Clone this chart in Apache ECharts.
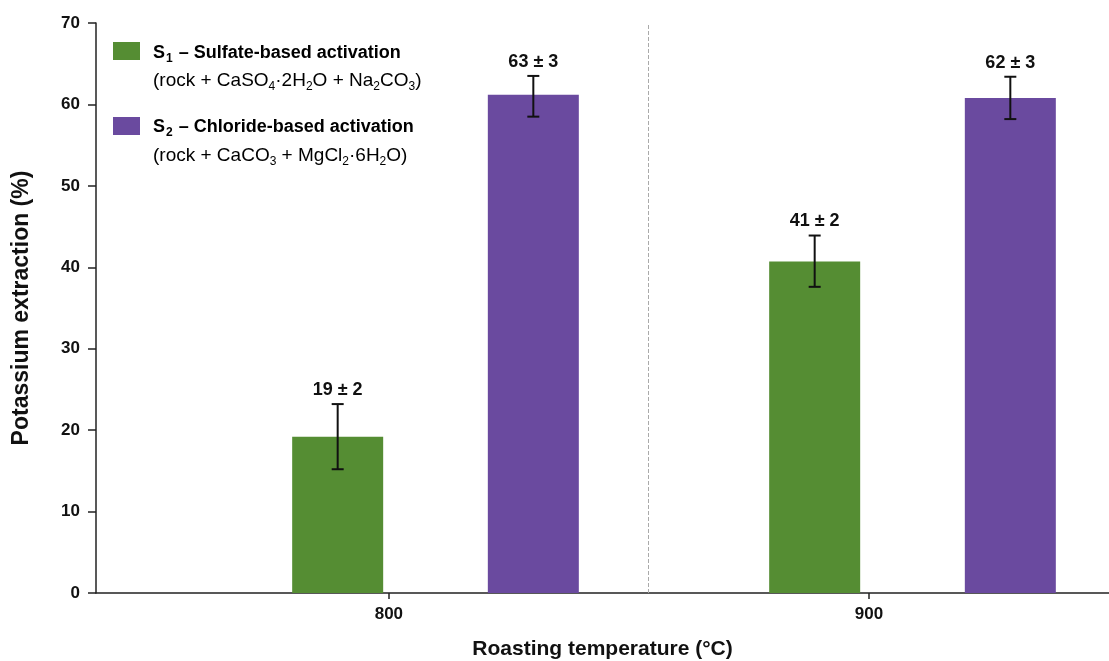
<!DOCTYPE html>
<html lang="en">

<head>
  <meta charset="UTF-8">
  <title>Potassium extraction vs roasting temperature</title>
  <style>
    html, body { margin: 0; padding: 0; background: #fff; }
    #root { width: 1109px; height: 661px; }
  </style>
</head>

<body>
  <div id="root"></div>
</body>
<script src="https://cdn.jsdelivr.net/npm/echarts@6/dist/echarts.min.js"></script>
<script>
  // values
  const categories = ['800', '900']
  const sulfate = [19.2, 40.7]
  const chloride = [61.2, 60.8]
  const sulfateLow = [15.2, 37.6]
  const sulfateHigh = [23.2, 43.9]
  const chlorideLow = [58.5, 58.2]
  const chlorideHigh = [63.5, 63.4]
  const sulfateLabels = ['19 ± 2', '41 ± 2']
  const chlorideLabels = ['63 ± 3', '62 ± 3']
  const tempTicks = [800, 900]
  const dividerAt = 854

  const GREEN = '#558d33'
  const PURPLE = '#6a4a9f'
  const FONT = 'Liberation Sans, Arial, sans-serif'
  const BAR_W = 91
  const BAR_GAP = 1.15
  const OFFSET = (BAR_W + BAR_W * BAR_GAP) / 2

  let myChart = echarts.init(document.getElementById('root'))

  function errorSeries(name, low, high, labels, sign) {
    return {
      name: name,
      type: 'custom',
      xAxisIndex: 1,
      yAxisIndex: 1,
      silent: true,
      z: 5,
      data: categories.map((c, i) => [i, low[i], high[i], labels[i]]),
      renderItem: function (params, api) {
        const i = api.value(0)
        const x = api.coord([i, 0])[0] + sign * OFFSET
        const yLo = api.coord([i, api.value(1)])[1]
        const yHi = api.coord([i, api.value(2)])[1]
        const cap = 6
        const ls = { stroke: '#111', lineWidth: 2 }
        return {
          type: 'group',
          children: [
            { type: 'line', shape: { x1: x, y1: yLo, x2: x, y2: yHi }, style: ls },
            { type: 'line', shape: { x1: x - cap, y1: yLo, x2: x + cap, y2: yLo }, style: ls },
            { type: 'line', shape: { x1: x - cap, y1: yHi, x2: x + cap, y2: yHi }, style: ls },
            {
              type: 'text',
              style: {
                x: x, y: yHi - 5,
                text: labels[i],
                align: 'center', verticalAlign: 'bottom',
                fontFamily: FONT, fontWeight: 'bold', fontSize: 18, fill: '#111'
              }
            }
          ]
        }
      }
    }
  }

  const richLegend = {
    b: { fontFamily: FONT, fontWeight: 'bold', fontSize: 18, color: '#111' },
    bs: { fontFamily: FONT, fontWeight: 'bold', fontSize: 12, color: '#111', padding: [11, 1, 0, 1] },
    n: { fontFamily: FONT, fontSize: 19, color: '#222' },
    s: { fontFamily: FONT, fontSize: 12, color: '#222', padding: [12, 0, 0, 0] }
  }

  let option = {
    animation: false,
    backgroundColor: '#fff',
    textStyle: { fontFamily: FONT },
    grid: [
      { left: 96, right: 0, top: 23, bottom: 68, outerBoundsMode: 'none', containLabel: false },
      { left: 197, width: 954, top: 23, bottom: 68, outerBoundsMode: 'none', containLabel: false }
    ],
    xAxis: [
      {
        type: 'value',
        gridIndex: 0,
        min: 739,
        max: 950,
        name: 'Roasting temperature (°C)',
        nameLocation: 'middle',
        nameGap: 46,
        nameTextStyle: { fontFamily: FONT, fontWeight: 'bold', fontSize: 21, color: '#111' },
        axisLine: { show: true, lineStyle: { color: '#222', width: 1.5 } },
        axisTick: { show: true, length: 6, customValues: tempTicks, lineStyle: { color: '#222', width: 1.5 } },
        axisLabel: { customValues: tempTicks, margin: 13, fontFamily: FONT, fontWeight: 'bold', fontSize: 17, color: '#111' },
        splitLine: { show: false }
      },
      {
        type: 'category',
        gridIndex: 1,
        data: categories,
        show: false
      }
    ],
    yAxis: [
      {
        type: 'value',
        gridIndex: 0,
        min: 0,
        max: 70,
        interval: 10,
        name: 'Potassium extraction (%)',
        nameLocation: 'middle',
        nameGap: 63,
        nameTextStyle: { fontFamily: FONT, fontWeight: 'bold', fontSize: 23, color: '#111' },
        axisLine: { show: true, lineStyle: { color: '#222', width: 1.5 } },
        axisTick: { show: true, inside: false, length: 8, lineStyle: { color: '#222', width: 1.5 } },
        axisLabel: { margin: 16, fontFamily: FONT, fontWeight: 'bold', fontSize: 17, color: '#111' },
        splitLine: { show: false }
      },
      { type: 'value', gridIndex: 1, min: 0, max: 70, show: false }
    ],
    graphic: [
      { type: 'rect', shape: { x: 113, y: 42, width: 27, height: 18 }, style: { fill: GREEN } },
      {
        type: 'text', x: 153, y: 53,
        style: { text: '{b|S}{bs|1}{b| – Sulfate-based activation}', rich: richLegend, verticalAlign: 'middle' }
      },
      {
        type: 'text', x: 153, y: 81,
        style: { text: '{n|(rock + CaSO}{s|4}{n|·2H}{s|2}{n|O + Na}{s|2}{n|CO}{s|3}{n|)}', rich: richLegend, verticalAlign: 'middle' }
      },
      { type: 'rect', shape: { x: 113, y: 117, width: 27, height: 18 }, style: { fill: PURPLE } },
      {
        type: 'text', x: 153, y: 127,
        style: { text: '{b|S}{bs|2}{b| – Chloride-based activation}', rich: richLegend, verticalAlign: 'middle' }
      },
      {
        type: 'text', x: 153, y: 156,
        style: { text: '{n|(rock + CaCO}{s|3}{n| + MgCl}{s|2}{n|·6H}{s|2}{n|O)}', rich: richLegend, verticalAlign: 'middle' }
      }
    ],
    series: [
      {
        name: 'divider',
        type: 'line',
        xAxisIndex: 0,
        yAxisIndex: 0,
        data: [],
        silent: true,
        markLine: {
          symbol: 'none',
          silent: true,
          label: { show: false },
          lineStyle: { type: 'dashed', color: '#aaa', width: 1 },
          data: [{ xAxis: dividerAt }]
        }
      },
      {
        name: 'S1 – Sulfate-based activation',
        type: 'bar',
        xAxisIndex: 1,
        yAxisIndex: 1,
        barWidth: BAR_W,
        barGap: (BAR_GAP * 100) + '%',
        itemStyle: { color: GREEN },
        data: sulfate
      },
      {
        name: 'S2 – Chloride-based activation',
        type: 'bar',
        xAxisIndex: 1,
        yAxisIndex: 1,
        barWidth: BAR_W,
        barGap: (BAR_GAP * 100) + '%',
        itemStyle: { color: PURPLE },
        data: chloride
      },
      errorSeries('S1 error', sulfateLow, sulfateHigh, sulfateLabels, -1),
      errorSeries('S2 error', chlorideLow, chlorideHigh, chlorideLabels, 1)
    ]
  };

  myChart.setOption(option)
</script>

</html>
